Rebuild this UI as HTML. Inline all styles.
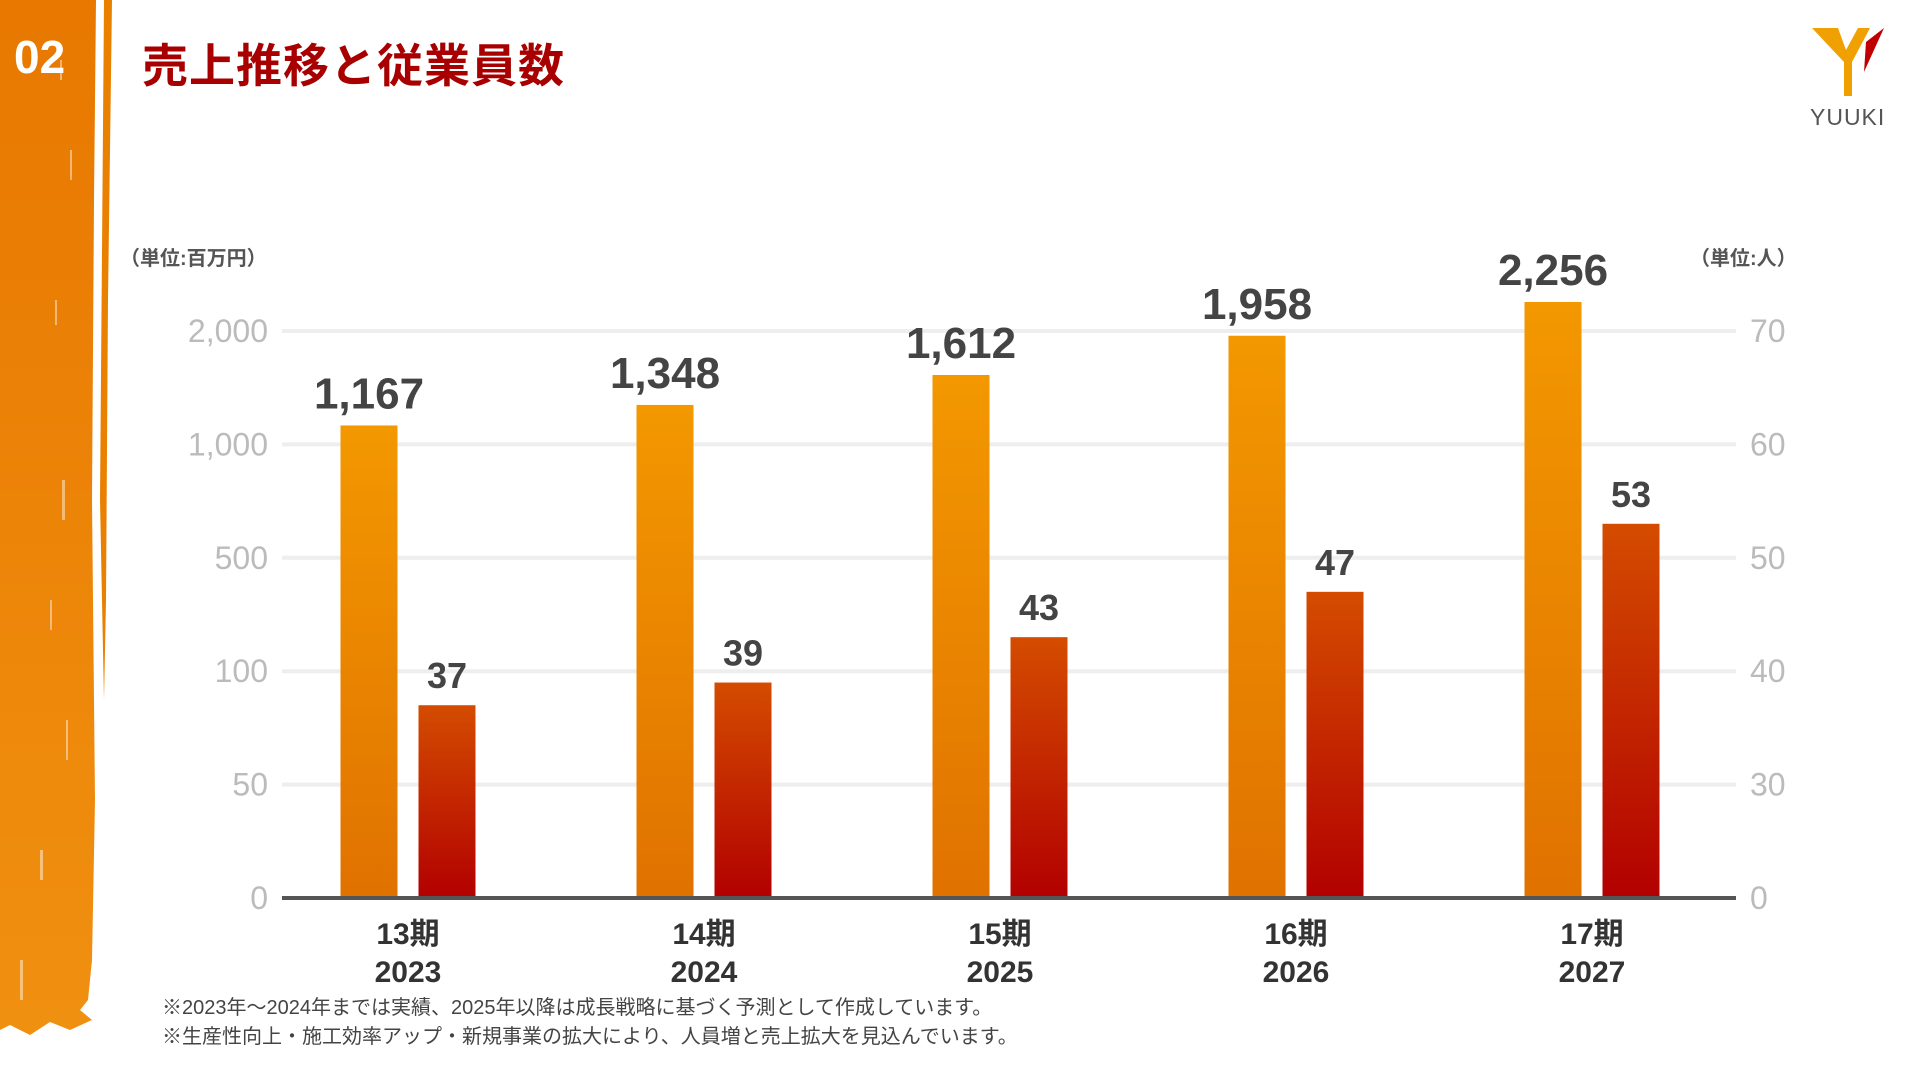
<!DOCTYPE html>
<html><head><meta charset="utf-8"><style>
body{margin:0;width:1920px;height:1080px;background:#fff;overflow:hidden;position:relative;font-family:"Liberation Sans","Noto Sans CJK JP",sans-serif}
.abs{position:absolute}
</style></head><body>
<svg class="abs" style="left:0;top:0" width="130" height="1080">
<defs><linearGradient id="bg" x1="0" y1="0" x2="0" y2="1"><stop offset="0" stop-color="#e87800"/><stop offset="1" stop-color="#f09010"/></linearGradient></defs>
<path d="M0 0 H96 L94 200 L92 500 L95 800 L92 960 L88 1000 L80 1010 L92 1020 L70 1030 L50 1022 L30 1035 L10 1025 L0 1030 Z" fill="url(#bg)"/>
<path d="M104 0 H112 L108 300 L106 600 L104 700 L100 500 Z" fill="#e98000"/>
<g fill="#fff" opacity="0.45"><rect x="60" y="60" width="2" height="20"/><rect x="70" y="150" width="2" height="30"/><rect x="55" y="300" width="2" height="25"/><rect x="62" y="480" width="3" height="40"/><rect x="50" y="600" width="2" height="30"/><rect x="66" y="720" width="2" height="40"/><rect x="40" y="850" width="3" height="30"/><rect x="20" y="960" width="3" height="40"/></g>
</svg>
<div class="abs" style="left:14px;top:30px;color:#fff;font-weight:bold;font-size:46px">02</div>
<div class="abs" style="left:142px;top:30px;color:#a80000;font-weight:bold;font-size:46px;letter-spacing:1px">売上推移と従業員数</div>
<svg class="abs" style="left:1808px;top:22px" width="80" height="80">
<path d="M4 6 H30 L38 28 L50 6 H62 L44 40 V74 H36 V40 Z" fill="#f0a000"/><path d="M58 20 L76 6 L56 50 Z" fill="#c00000"/>
</svg>
<div class="abs" style="left:1810px;top:104px;color:#555;font-size:23px;letter-spacing:1px">YUUKI</div>
<div class="abs" style="left:120px;top:242px;color:#555;font-weight:bold;font-size:20px">（単位:百万円）</div>
<div class="abs" style="left:1690px;top:242px;color:#555;font-weight:bold;font-size:20px">（単位:人）</div>
<svg id="chart" class="abs" style="left:0;top:0" width="1920" height="1080"></svg>
<div class="abs" style="left:162px;top:994px;color:#444;font-size:20px;line-height:29px">※2023年～2024年までは実績、2025年以降は成長戦略に基づく予測として作成しています。<br>※生産性向上・施工効率アップ・新規事業の拡大により、人員増と売上拡大を見込んでいます。</div>
<script>
const categories=["13期","14期","15期","16期","17期"];
const years=["2023","2024","2025","2026","2027"];
const sales=[1167,1348,1612,1958,2256];
const employees=[37,39,43,47,53];
const leftTicks=[0,50,100,500,1000,2000];
const rightTicks=[0,30,40,50,60,70];
const leftTickLabels=["0","50","100","500","1,000","2,000"];
const rightTickLabels=["0","30","40","50","60","70"];
const NS="http://www.w3.org/2000/svg";
const svg=document.getElementById('chart');
const x0=282,x1=1736,yBase=898,yTop=331,step=(yBase-yTop)/5;
function piece(ticks,v){
  for(let i=0;i<ticks.length-1;i++){if(v<=ticks[i+1]||i===ticks.length-2){const t=(v-ticks[i])/(ticks[i+1]-ticks[i]);return yBase-(i+t)*step;}}
}
const yL=v=>piece(leftTicks,v), yR=v=>piece(rightTicks,v);
const xC=i=>408+i*296;
function mk(tag,attrs,txt){const e=document.createElementNS(NS,tag);for(const k in attrs)e.setAttribute(k,attrs[k]);if(txt!==undefined)e.textContent=txt;svg.appendChild(e);return e;}
const defs=mk('defs',{});
defs.innerHTML='<linearGradient id="go" x1="0" y1="0" x2="0" y2="1"><stop offset="0" stop-color="#f39800"/><stop offset="1" stop-color="#e07200"/></linearGradient><linearGradient id="gr" x1="0" y1="0" x2="0" y2="1"><stop offset="0" stop-color="#d44c00"/><stop offset="1" stop-color="#b20000"/></linearGradient>';
leftTicks.forEach((t,i)=>{
  const y=yL(t);
  if(i>0){const g=mk('line',{x1:x0,x2:x1,y1:y,y2:y,stroke:'#eeeeee','stroke-width':4});
  }
  const l=mk('text',{x:268,y:y+11,'text-anchor':'end','font-size':32,fill:'#bbb'},leftTickLabels[i]);
  
});
rightTicks.forEach((t,i)=>{
  const l=mk('text',{x:1750,y:yR(t)+11,'font-size':32,fill:'#bbb'},rightTickLabels[i]);
  
});
const bw=57;
categories.forEach((c,i)=>{
  const cx=xC(i);
  const ys=yL(sales[i]);
  const b=mk('rect',{x:cx-39-bw/2,y:ys,width:bw,height:yBase-ys,fill:'url(#go)'});
  
  const t=mk('text',{x:cx-39,y:ys-17,'text-anchor':'middle','font-size':44,'font-weight':'bold',fill:'#444'},sales[i].toLocaleString('en-US'));
  
  const ye=yR(employees[i]);
  const r=mk('rect',{x:cx+39-bw/2,y:ye,width:bw,height:yBase-ye,fill:'url(#gr)'});
  
  const t2=mk('text',{x:cx+39,y:ye-17,'text-anchor':'middle','font-size':36,'font-weight':'bold',fill:'#444'},employees[i]);
  
  const a=mk('text',{x:cx,y:944,'text-anchor':'middle','font-size':30,'font-weight':'bold',fill:'#333'},c);
  
  const yy=mk('text',{x:cx,y:982,'text-anchor':'middle','font-size':30,'font-weight':'bold',fill:'#333'},years[i]);
  
});
const base=mk('line',{x1:x0,x2:x1,y1:yBase,y2:yBase,stroke:'#555','stroke-width':4});


</script>
</body></html>
